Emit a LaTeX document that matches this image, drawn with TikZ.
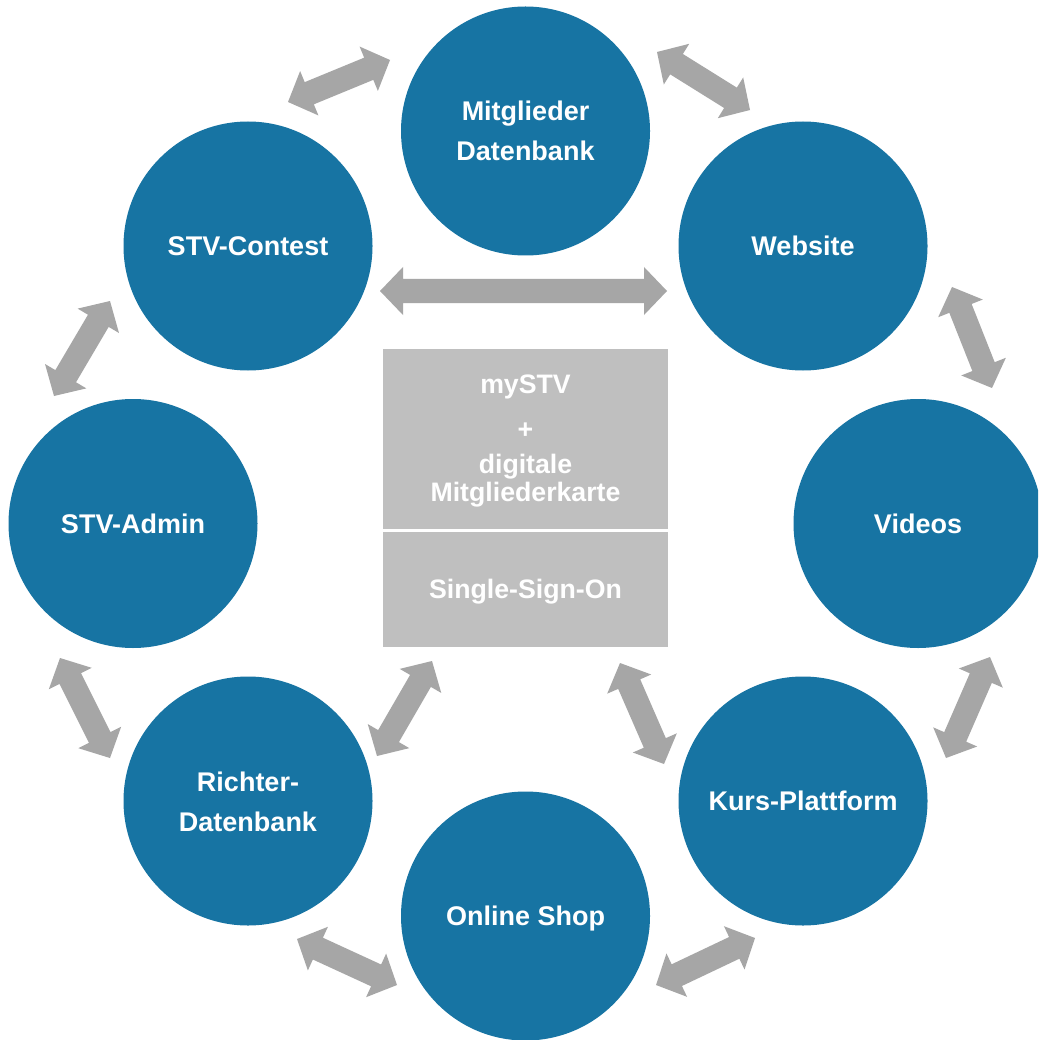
\documentclass[tikz,border=0pt]{standalone}
\usepackage{fontspec}
\setmainfont{Liberation Sans}
\usetikzlibrary{calc}
\definecolor{stvblue}{RGB}{23,116,163}
\definecolor{arrgray}{RGB}{166,166,166}
\definecolor{boxgray}{RGB}{191,191,191}
\begin{document}
\begin{tikzpicture}[x=1pt,y=-1pt,
  bubble/.style={circle, fill=stvblue, draw=none, minimum size=249pt, inner sep=0pt},
  ctext/.style={text=white, font=\fontsize{27}{40}\selectfont\bfseries, anchor=base, inner sep=0pt},
  btext/.style={text=white, font=\fontsize{26.7}{30}\selectfont\bfseries, anchor=base, inner sep=0pt},
  panel/.style={fill=boxgray, draw=none, inner sep=0pt, anchor=north west, minimum width=285pt},
  arrowfill/.style={fill=arrgray, draw=none}]
\clip (0,0) rectangle (1038,1040);
\fill[white] (0,0) rectangle (1038,1040);

% circles
\node[bubble] (mdb) at (525.5,131) {};
\node[bubble] (web) at (803,246) {};
\node[bubble] (vid) at (918,523.5) {};
\node[bubble] (kurs) at (803,801) {};
\node[bubble] (shop) at (525.5,916) {};
\node[bubble] (richter) at (248,801) {};
\node[bubble] (admin) at (133,523.5) {};
\node[bubble] (contest) at (248,246) {};

\node[ctext] (tmdb1) at ($(mdb)+(0,-10)$) {Mitglieder};
\node[ctext] (tmdb2) at ($(mdb)+(0,30)$) {Datenbank};
\node[ctext] (tweb) at ($(web)+(0,9.5)$) {Website};
\node[ctext] (tvid) at ($(vid)+(0,9.5)$) {Videos};
\node[ctext] (tkurs) at ($(kurs)+(0,9.5)$) {Kurs-Plattform};
\node[ctext] (tshop) at ($(shop)+(0,9.5)$) {Online Shop};
\node[ctext] (tri1) at ($(richter)+(0,-10)$) {Richter-};
\node[ctext] (tri2) at ($(richter)+(0,30)$) {Datenbank};
\node[ctext] (tadmin) at ($(admin)+(0,9.5)$) {STV-Admin};
\node[ctext] (tcontest) at ($(contest)+(0,9.5)$) {STV-Contest};

% central panel
\node[panel, minimum height=180pt] (ptop) at (383,349) {};
\node[panel, minimum height=115pt] (pbot) at (383,532) {};
\node[btext] (b1) at (525.5,393) {mySTV};
\node[btext] (b2) at (525.5,438) {+};
\node[btext] (b3) at (525.5,473) {digitale};
\node[btext] (b4) at (525.5,501) {Mitgliederkarte};
\node[btext] (b5) at (525.5,598) {Single-Sign-On};

% arrow tips
\coordinate (s1) at (288,102);  \coordinate (e1) at (390,60);
\coordinate (s2) at (657,52);   \coordinate (e2) at (750,110);
\coordinate (s3) at (952,287);  \coordinate (e3) at (992,388);
\coordinate (s4) at (990,657);  \coordinate (e4) at (946,758);
\coordinate (s5) at (755,938);  \coordinate (e5) at (656,985);
\coordinate (s6) at (397,985);  \coordinate (e6) at (297,939);
\coordinate (s7) at (110,758);  \coordinate (e7) at (60,658);
\coordinate (s8) at (54,396);   \coordinate (e8) at (110,301);
\coordinate (s9) at (380,291);  \coordinate (e9) at (667,291);
\coordinate (s10) at (432,661); \coordinate (e10) at (377,756);
\coordinate (s11) at (620,663); \coordinate (e11) at (664,764);

\foreach \i in {1,...,11}{
  \coordinate (hs) at ($(s\i)!23pt!(e\i)$);
  \coordinate (he) at ($(e\i)!23pt!(s\i)$);
  \fill[arrowfill] (s\i)
    -- ($(hs)!24pt!90:(e\i)$) -- ($(hs)!12pt!90:(e\i)$)
    -- ($(he)!12pt!-90:(s\i)$) -- ($(he)!24pt!-90:(s\i)$)
    -- (e\i)
    -- ($(he)!24pt!90:(s\i)$) -- ($(he)!12pt!90:(s\i)$)
    -- ($(hs)!12pt!-90:(e\i)$) -- ($(hs)!24pt!-90:(e\i)$)
    -- cycle;
}
\end{tikzpicture}
\end{document}
